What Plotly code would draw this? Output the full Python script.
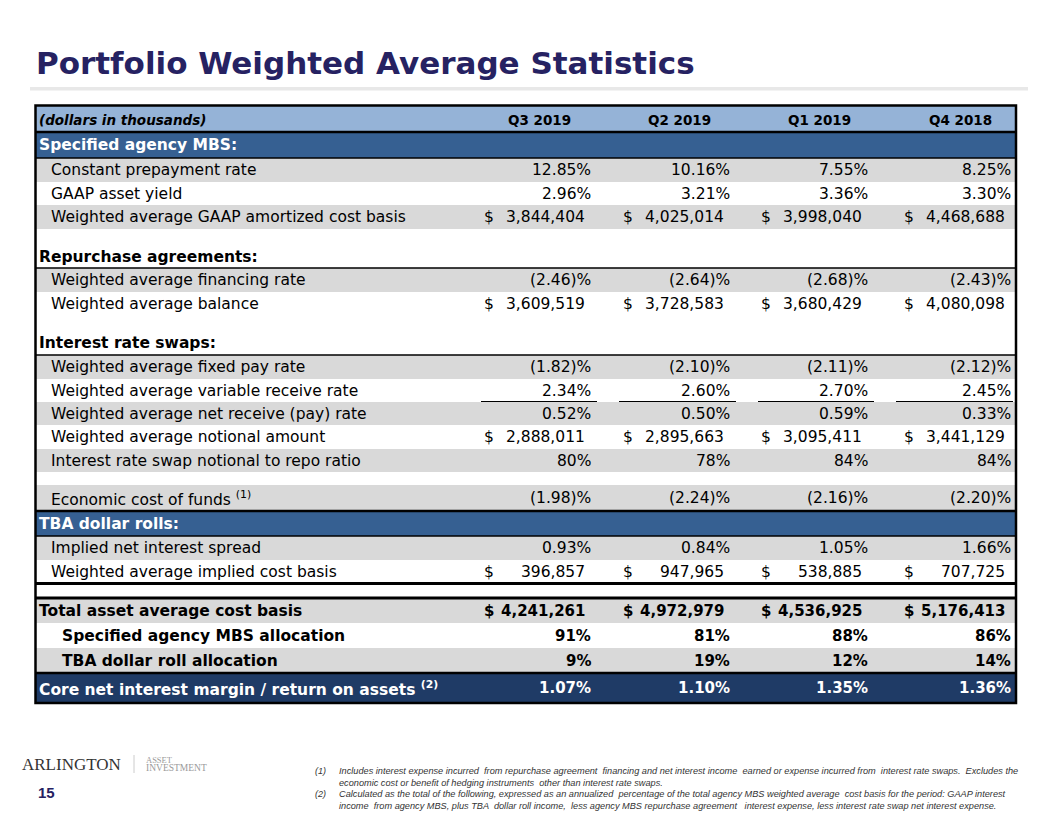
import plotly.graph_objects as go

# ---------------- data ----------------
title = "Portfolio Weighted Average Statistics"
header_label = "(dollars in thousands)"
quarters = ["Q3 2019", "Q2 2019", "Q1 2019", "Q4 2018"]

row_labels = [
    "Specified agency MBS:",
    "Constant prepayment rate",
    "GAAP asset yield",
    "Weighted average GAAP amortized cost basis",
    "",
    "Repurchase agreements:",
    "Weighted average financing rate",
    "Weighted average balance",
    "",
    "Interest rate swaps:",
    "Weighted average fixed pay rate",
    "Weighted average variable receive rate",
    "Weighted average net receive (pay) rate",
    "Weighted average notional amount",
    "Interest rate swap notional to repo ratio",
    "",
    "Economic cost of funds <sup>(1)</sup>",
    "TBA dollar rolls:",
    "Implied net interest spread",
    "Weighted average implied cost basis",
    "",
    "Total asset average cost basis",
    "Specified agency MBS allocation",
    "TBA dollar roll allocation",
    "Core net interest margin / return on assets <sup>(2)</sup>",
]

row_formats = [None, "pct2", "pct2", "usd", None, None, "pct2", "usd", None, None,
               "pct2", "pct2", "pct2", "usd", "pct0", None, "pct2", None, "pct2", "usd",
               None, "usd", "pct0", "pct0", "pct2"]

q3_2019 = [None, 12.85, 2.96, 3844404, None, None, -2.46, 3609519, None, None,
           -1.82, 2.34, 0.52, 2888011, 80, None, -1.98, None, 0.93, 396857,
           None, 4241261, 91, 9, 1.07]
q2_2019 = [None, 10.16, 3.21, 4025014, None, None, -2.64, 3728583, None, None,
           -2.10, 2.60, 0.50, 2895663, 78, None, -2.24, None, 0.84, 947965,
           None, 4972979, 81, 19, 1.10]
q1_2019 = [None, 7.55, 3.36, 3998040, None, None, -2.68, 3680429, None, None,
           -2.11, 2.70, 0.59, 3095411, 84, None, -2.16, None, 1.05, 538885,
           None, 4536925, 88, 12, 1.35]
q4_2018 = [None, 8.25, 3.30, 4468688, None, None, -2.43, 4080098, None, None,
           -2.12, 2.45, 0.33, 3441129, 84, None, -2.20, None, 1.66, 707725,
           None, 5176413, 86, 14, 1.36]
quarter_values = [q3_2019, q2_2019, q1_2019, q4_2018]

footnotes = [
    ("(1)", ["Includes interest expense incurred  from repurchase agreement  financing and net interest income  earned or expense incurred from  interest rate swaps.  Excludes the",
             "economic cost or benefit of hedging instruments  other than interest rate swaps."]),
    ("(2)", ["Calculated as the total of the following, expressed as an annualized  percentage of the total agency MBS weighted average  cost basis for the period: GAAP interest",
             "income  from agency MBS, plus TBA  dollar roll income,  less agency MBS repurchase agreement   interest expense, less interest rate swap net interest expense."]),
]
page_number = "15"

# ---------------- layout / style ----------------
# the page body has an 8px margin; axes are set so that axis units equal page pixels
OFF = 8
W, H = 1056 - OFF, 816 - OFF
NAVY = "#262262"
HEAD_BLUE = "#95B3D7"
SEC_BLUE = "#366092"
CORE_BLUE = "#1F3B66"
GRAY = "#D9D9D9"
FONT = "DejaVu Sans"

row_styles = ["sec_blue", "g", "w", "g", "w", "sec", "g", "w", "w", "sec",
              "g", "w", "g", "w", "g", "w", "g", "sec_blue", "g", "w",
              "w", "total", "sub", "subg", "core"]
row_bounds = [(132, 158), (158, 182), (182, 205), (205, 229), (229, 245), (245, 268),
              (268, 292), (292, 316), (316, 331), (331, 355), (355, 379), (379, 402),
              (402, 425), (425, 449), (449, 472), (472, 485), (485, 511), (511, 536),
              (536, 560), (560, 584), (584, 598), (598, 623), (623, 648), (648, 673),
              (673, 703)]

TL, TR, TT, TB = 35.5, 1016, 105.5, 703
col_right = [592, 731, 869, 1012]
col_center = [539.5, 679, 819, 960.5]

shapes = []
annotations = []


def rect(x0, y0, x1, y1, fill, lw=0, lc="black"):
    shapes.append(dict(type="rect", xref="x", yref="y", x0=x0, y0=y0, x1=x1, y1=y1,
                       fillcolor=fill, line=dict(width=lw, color=lc), layer="below"))


def hline(y, x0, x1, w, c="black"):
    shapes.append(dict(type="line", xref="x", yref="y", x0=x0, x1=x1, y0=y, y1=y,
                       line=dict(width=w, color=c), layer="above"))


def text(x, y, s, size, color="black", bold=False, italic=False, anchor="left",
         family=FONT, yanchor="middle"):
    annotations.append(dict(xref="x", yref="y", x=x, y=y, text=s, showarrow=False,
                            xanchor=anchor, yanchor=yanchor,
                            font=dict(family=family, size=size, color=color,
                                      weight="bold" if bold else "normal",
                                      style="italic" if italic else "normal")))


def fmt(v, kind):
    if kind == "pct2":
        if v < 0:
            return f"({abs(v):.2f})%"
        return f"{v:.2f}%"
    if kind == "pct0":
        return f"{v:.0f}%"
    if kind == "usd":
        return f"{v:,.0f}"
    return ""


# title and rule
text(34, 63, title, 31, NAVY, bold=True)
rect(30, 87, 1028, 90.5, "#E8E8E8")

# header row
rect(TL, TT, TR, 132, HEAD_BLUE)
text(37, 120, header_label, 13.5, "black", bold=True, italic=True)
for q, cx in zip(quarters, col_center):
    text(cx, 120, q, 13.5, "black", bold=True, anchor="center")

fills = {"sec_blue": SEC_BLUE, "g": GRAY, "w": "white", "sec": "white",
         "total": GRAY, "sub": "white", "subg": GRAY, "core": CORE_BLUE}

for i, (label, style, (y0, y1)) in enumerate(zip(row_labels, row_styles, row_bounds)):
    rect(TL, y0, TR, y1, fills[style])
    yc = (y0 + y1) / 2
    bold = style in ("sec_blue", "sec", "total", "sub", "subg", "core")
    color = "white" if style in ("sec_blue", "core") else "black"
    if style in ("sec_blue", "sec", "total", "core"):
        lx = 37
    elif style in ("sub", "subg"):
        lx = 60
    else:
        lx = 49
    if label:
        text(lx, yc, label, 15.5, color, bold=bold)
    kind = row_formats[i]
    if kind is None:
        continue
    vsize = 15 if bold else 15.5
    for qv, cr in zip(quarter_values, col_right):
        s = fmt(qv[i], kind)
        if kind == "usd":
            text(cr - 110, yc, "$", vsize, color, bold=bold)
            text(cr - 5, yc, s, vsize, color, bold=bold, anchor="right")
        else:
            text(cr + 1, yc, s, vsize, color, bold=bold, anchor="right")

# rules
for y, w in [(132, 2.5), (158, 1.5), (268, 1.5), (355, 1.5), (511, 2.5),
             (536, 1.5), (583.5, 3), (598, 3), (673, 2.5)]:
    hline(y, TL, TR, w)
for x0, x1 in [(481, 597), (619, 736), (758, 874), (896, 1013)]:
    hline(401.5, x0, x1, 1)

# outer border
shapes.append(dict(type="rect", xref="x", yref="y", x0=TL, y0=TT, x1=TR, y1=TB,
                   line=dict(width=2.5, color="black"), fillcolor="rgba(0,0,0,0)",
                   layer="above"))

# logo
text(20, 764, "ARLINGTON", 17, "#333333", family="Liberation Serif")
shapes.append(dict(type="line", xref="x", yref="y", x0=134, x1=134, y0=755, y1=773,
                   line=dict(width=1, color="#CCCCCC")))
text(144, 760, "ASSET", 8.5, "#9A9A9A", family="Liberation Serif")
text(144, 768, "INVESTMENT", 9.5, "#9A9A9A", family="Liberation Serif")
text(36, 792, page_number, 15, NAVY, bold=True, family="Liberation Sans")

# footnotes
fy = 771
for num, lines in footnotes:
    text(313, fy, num, 9, "#333333", italic=True, family="Liberation Sans")
    for ln in lines:
        text(337, fy, ln, 9.2, "#333333", italic=True, family="Liberation Sans")
        fy += 11.7

fig = go.Figure()
fig.update_layout(
    width=W, height=H,
    margin=dict(l=0, r=0, t=0, b=0),
    paper_bgcolor="white", plot_bgcolor="white",
    xaxis=dict(range=[OFF, OFF + W], visible=False, fixedrange=True),
    yaxis=dict(range=[OFF + H, OFF], visible=False, fixedrange=True),
    shapes=shapes, annotations=annotations, showlegend=False,
)
fig.write_html("out.html")
